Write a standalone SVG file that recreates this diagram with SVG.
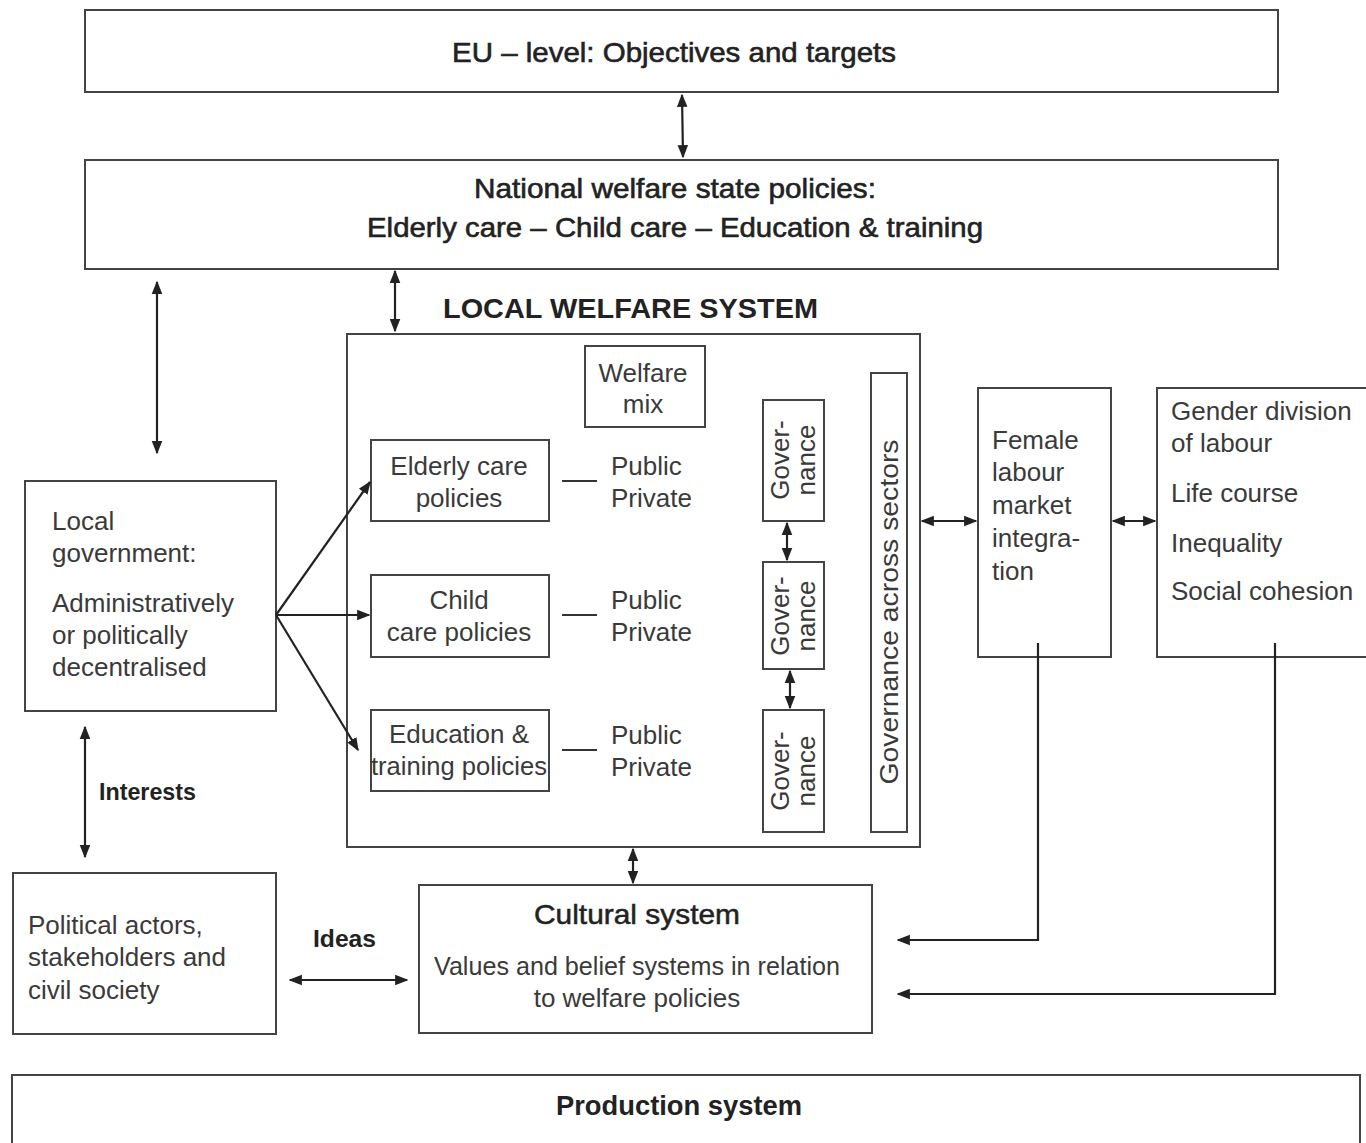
<svg xmlns="http://www.w3.org/2000/svg" width="1366" height="1143" viewBox="0 0 1366 1143">
<style>
.box{fill:#fff;stroke:#444;stroke-width:2}
.t{font-family:"Liberation Sans",Arial,sans-serif;font-size:26px;fill:#3a3a3a}
.h{font-family:"Liberation Sans",Arial,sans-serif;font-size:28px;fill:#222;font-weight:bold}
.m{text-anchor:middle}
.c{stroke:#222;stroke-width:2.2;fill:none}
.d{stroke:#333;stroke-width:2;fill:none}
</style>
<defs>
<marker id="a" viewBox="0 0 10 10" refX="9" refY="5" markerWidth="6" markerHeight="6" orient="auto-start-reverse" markerUnits="strokeWidth">
<path d="M0,1 L10,5 L0,9 z" fill="#222"/>
</marker>
</defs>
<rect width="1366" height="1143" fill="#fff"/>

<g id="eu"><rect class="box" x="85" y="10" width="1193" height="82"/>
<text class="h m" x="674" y="62" textLength="444" lengthAdjust="spacingAndGlyphs" font-weight="normal" style="font-weight:normal;stroke:#222;stroke-width:0.6">EU – level: Objectives and targets</text></g>

<g id="national"><rect class="box" x="85" y="160" width="1193" height="109"/>
<text class="h m" x="675" y="198" textLength="402" lengthAdjust="spacingAndGlyphs" style="font-weight:normal;stroke:#222;stroke-width:0.6">National welfare state policies:</text>
<text class="h m" x="675" y="237" textLength="616" lengthAdjust="spacingAndGlyphs" style="font-weight:normal;stroke:#222;stroke-width:0.6">Elderly care – Child care – Education &amp; training</text></g>

<g id="local-welfare-system"><rect class="box" x="347" y="334" width="573" height="513"/>
<text class="h" x="443" y="318" textLength="375" lengthAdjust="spacingAndGlyphs">LOCAL WELFARE SYSTEM</text></g>

<g id="welfare-mix"><rect class="box" x="585" y="346" width="120" height="81"/>
<text class="t m" x="643" y="382">Welfare</text><text class="t m" x="643" y="413">mix</text></g>

<g id="elderly"><rect class="box" x="371" y="440" width="178" height="81"/>
<text class="t m" x="459" y="475">Elderly care</text><text class="t m" x="459" y="507">policies</text></g>
<g id="child"><rect class="box" x="371" y="575" width="178" height="82"/>
<text class="t m" x="459" y="609">Child</text><text class="t m" x="459" y="641">care policies</text></g>
<g id="education"><rect class="box" x="371" y="710" width="178" height="81"/>
<text class="t m" x="459" y="743">Education &amp;</text><text class="t m" x="459" y="775" textLength="176" lengthAdjust="spacingAndGlyphs">training policies</text></g>

<g id="pp1"><text class="t" x="611" y="475">Public</text><text class="t" x="611" y="507">Private</text></g>
<g id="pp2"><text class="t" x="611" y="609">Public</text><text class="t" x="611" y="641">Private</text></g>
<g id="pp3"><text class="t" x="611" y="744">Public</text><text class="t" x="611" y="776">Private</text></g>

<g id="gov1"><rect class="box" x="763" y="400" width="61" height="121"/>
<g transform="translate(793,460) rotate(-90)"><text class="t m" x="0" y="-4">Gover-</text><text class="t m" x="0" y="22">nance</text></g></g>
<g id="gov2"><rect class="box" x="763" y="562" width="61" height="107"/>
<g transform="translate(793,616) rotate(-90)"><text class="t m" x="0" y="-4">Gover-</text><text class="t m" x="0" y="22">nance</text></g></g>
<g id="gov3"><rect class="box" x="763" y="710" width="61" height="122"/>
<g transform="translate(793,771) rotate(-90)"><text class="t m" x="0" y="-4">Gover-</text><text class="t m" x="0" y="22">nance</text></g></g>

<g id="gov-across"><rect class="box" x="871" y="373" width="36" height="459"/>
<text class="t m" transform="translate(898,612) rotate(-90)" x="0" y="0" textLength="345" lengthAdjust="spacingAndGlyphs">Governance across sectors</text></g>

<g id="female"><rect class="box" x="978" y="388" width="133" height="269"/>
<text class="t" x="992" y="449">Female</text><text class="t" x="992" y="481">labour</text><text class="t" x="992" y="514">market</text><text class="t" x="992" y="547">integra-</text><text class="t" x="992" y="580">tion</text></g>

<g id="gender"><rect class="box" x="1157" y="388" width="215" height="269"/>
<text class="t" x="1171" y="420">Gender division</text><text class="t" x="1171" y="452">of labour</text><text class="t" x="1171" y="502">Life course</text><text class="t" x="1171" y="552">Inequality</text><text class="t" x="1171" y="600">Social cohesion</text></g>

<g id="local-gov"><rect class="box" x="25" y="481" width="251" height="230"/>
<text class="t" x="52" y="530">Local</text><text class="t" x="52" y="562">government:</text><text class="t" x="52" y="612">Administratively</text><text class="t" x="52" y="644">or politically</text><text class="t" x="52" y="676">decentralised</text></g>

<g id="political"><rect class="box" x="13" y="873" width="263" height="161"/>
<text class="t" x="28" y="934">Political actors,</text><text class="t" x="28" y="966">stakeholders and</text><text class="t" x="28" y="999">civil society</text></g>

<g id="cultural"><rect class="box" x="419" y="885" width="453" height="148"/>
<text class="h m" x="637" y="924" textLength="206" lengthAdjust="spacingAndGlyphs" style="font-weight:normal;stroke:#222;stroke-width:0.5">Cultural system</text>
<text class="t m" x="637" y="975" textLength="406" lengthAdjust="spacingAndGlyphs">Values and belief systems in relation</text>
<text class="t m" x="637" y="1007">to welfare policies</text></g>

<g id="production"><rect class="box" x="12" y="1075" width="1348" height="80"/>
<text class="h m" x="679" y="1115" textLength="246" lengthAdjust="spacingAndGlyphs">Production system</text></g>

<g id="labels">
<text class="h" x="99" y="800" textLength="97" lengthAdjust="spacingAndGlyphs" font-size="24" style="font-size:24px">Interests</text>
<text class="h" x="313" y="947" textLength="63" lengthAdjust="spacingAndGlyphs" style="font-size:24px">Ideas</text>
</g>

<g id="connectors">
<line class="c" x1="682" y1="95" x2="683" y2="157" marker-start="url(#a)" marker-end="url(#a)"/>
<line class="c" x1="395" y1="271" x2="395" y2="331" marker-start="url(#a)" marker-end="url(#a)"/>
<line class="c" x1="157" y1="282" x2="157" y2="453" marker-start="url(#a)" marker-end="url(#a)"/>
<line class="c" x1="276" y1="615" x2="370" y2="482" marker-end="url(#a)"/>
<line class="c" x1="276" y1="615" x2="369" y2="615" marker-end="url(#a)"/>
<line class="c" x1="276" y1="615" x2="358" y2="750" marker-end="url(#a)"/>
<line class="d" x1="562" y1="481" x2="597" y2="481"/>
<line class="d" x1="562" y1="615" x2="597" y2="615"/>
<line class="d" x1="562" y1="750" x2="597" y2="750"/>
<line class="c" x1="787" y1="523" x2="787" y2="560" marker-start="url(#a)" marker-end="url(#a)"/>
<line class="c" x1="790" y1="671" x2="790" y2="708" marker-start="url(#a)" marker-end="url(#a)"/>
<line class="c" x1="922" y1="521" x2="976" y2="521" marker-start="url(#a)" marker-end="url(#a)"/>
<line class="c" x1="1113" y1="521" x2="1155" y2="521" marker-start="url(#a)" marker-end="url(#a)"/>
<polyline class="c" points="1038,643 1038,940 898,940" marker-end="url(#a)"/>
<polyline class="c" points="1275,643 1275,994 898,994" marker-end="url(#a)"/>
<line class="c" x1="85" y1="727" x2="85" y2="857" marker-start="url(#a)" marker-end="url(#a)"/>
<line class="c" x1="290" y1="980" x2="407" y2="980" marker-start="url(#a)" marker-end="url(#a)"/>
<line class="c" x1="633" y1="849" x2="633" y2="883" marker-start="url(#a)" marker-end="url(#a)"/>
</g>
</svg>
